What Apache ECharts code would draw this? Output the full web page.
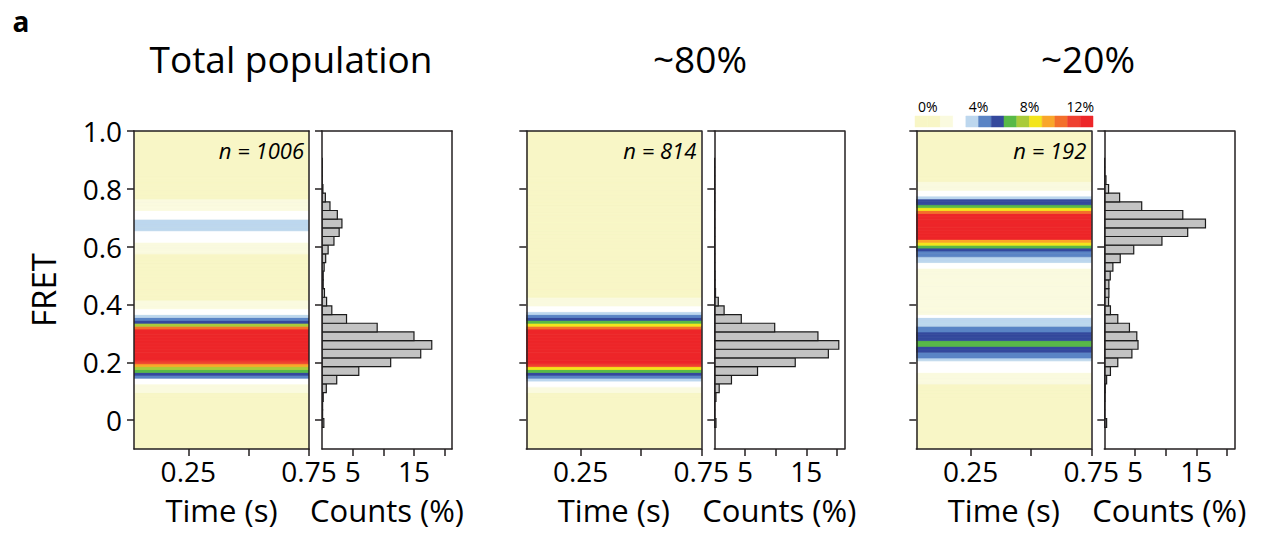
<!DOCTYPE html>
<html><head><meta charset="utf-8">
<script src="https://cdn.jsdelivr.net/npm/echarts@6/dist/echarts.min.js"></script>
<style>html,body{margin:0;padding:0;background:#fff}#c{width:1263px;height:535px}</style>
</head><body><div id="c"></div>
<script>
// ---------------- data ----------------
const panelTitles = ['Total population', '~80%', '~20%'];
const panelN = ['n = 1006', 'n = 814', 'n = 192'];
const timeRange = [0.025, 0.75];          // s, recorded time window
const timeTicks = [0.25, 0.5, 0.75];
const timeLabels = [0.25, 0.75];
const fretRange = [-0.1, 1.0];
const fretTicks = [0, 0.2, 0.4, 0.6, 0.8, 1.0];
const countRange = [0, 21.2];
const countTicks = [5, 10, 15, 20];
const countLabels = [5, 15];
const colorbarRange = [-1, 13];
const colorbarTicks = [0, 4, 8, 12];
const colorbarCells = [-0.5, 0.5, 1.5, 2.5, 3.5, 4.5, 5.5, 6.5, 7.5, 8.5, 9.5, 10.5, 11.5, 12.5];
const levelBounds = [1, 2, 3, 4, 5, 6, 7, 8, 9, 10, 11, 12];
const levelColors = ['#f8f6c6', '#fafadf', '#ffffff', '#bdd7ee', '#5a84c5', '#34499d', '#58b947', '#a9cb3a',
                     '#f3e51c', '#f9a62a', '#f36f2b', '#ef4130', '#ed2629'];

// contour profiles (% per cell) vs FRET, cell height 0.01
const heatCellH = 0.01;
const heatFret = [0.08,0.09,0.10,0.11,0.12,0.13,0.14,0.15,0.16,0.17,0.18,0.19,0.20,0.21,0.22,0.23,0.24,0.25,0.26,0.27,
  0.28,0.29,0.30,0.31,0.32,0.33,0.34,0.35,0.36,0.37,0.38,0.39,0.40,0.41,0.42,0.43,0.44,0.45,0.46,0.47,
  0.48,0.49,0.50,0.51,0.52,0.53,0.54,0.55,0.56,0.57,0.58,0.59,0.60,0.61,0.62,0.63,0.64,0.65,0.66,0.67,
  0.68,0.69,0.70,0.71,0.72,0.73,0.74,0.75,0.76,0.77,0.78,0.79,0.80,0.81,0.82,0.83,0.84];
const heat1 = [0.7,0.8,1.05,1.3,1.6,2.2,2.6,4.2,5.4,6.2,7.5,9.5,11.8,13.5,15.0,16.1,17.0,17.6,17.9,17.5,
  16.5,15.0,13.5,12.3,10.2,7.4,5.6,4.5,3.4,2.6,2.0,1.6,1.3,1.15,0.95,0.8,0.6,0.5,0.4,0.3,
  0.3,0.3,0.3,0.3,0.4,0.5,0.6,0.7,0.8,0.9,1.2,1.4,1.7,1.9,2.2,2.5,2.8,2.95,3.1,3.3,
  3.3,3.1,2.9,2.5,2.2,1.8,1.5,1.2,1.05,0.8,0.5,0.4,0.3,0.2,0.2,0.1,0.1];
const heat2 = [0.7,0.9,1.1,1.4,2.2,2.7,3.5,4.4,5.5,6.4,8.3,11.5,13.5,15.5,17.5,18.6,19.5,20.0,20.3,19.8,
  18.5,16.9,15.0,13.0,10.5,8.3,6.4,5.3,4.3,3.5,2.8,2.2,1.6,1.2,1.0,0.8,0.6,0.4,0.3,0.2,
  0.2,0.2,0.2,0.2,0.2,0.2,0.2,0.2,0.2,0.2,0.2,0.2,0.2,0.2,0.2,0.2,0.2,0.2,0.2,0.2,
  0.2,0.2,0.2,0.2,0.2,0.2,0.2,0.2,0.1,0.1,0.1,0.1,0.1,0.1,0.1,0.1,0.1];
const heat3 = [0.3,0.4,0.6,0.8,0.9,1.1,1.3,1.5,1.8,2.1,2.3,2.5,2.8,3.6,4.4,4.9,5.3,5.6,6.05,6.05,
  5.6,5.3,5.0,4.7,4.4,3.9,3.6,3.3,2.4,1.9,1.8,1.6,1.5,1.4,1.35,1.3,1.3,1.3,1.35,1.4,
  1.45,1.5,1.6,1.7,1.9,2.2,2.6,3.2,3.6,4.3,4.8,5.6,6.5,8.2,9.5,12.3,14.0,15.5,16.5,16.8,
  16.5,15.5,14.0,12.5,10.5,8.5,6.8,5.8,5.0,3.6,2.8,2.4,1.9,1.6,1.2,0.9,0.7];

// FRET histograms (% per bin), bin width 0.03
const histBinW = 0.03;
const histBins = [-0.01,0.02,0.05,0.08,0.11,0.14,0.17,0.20,0.23,0.26,0.29,0.32,0.35,0.38,0.41,0.44,
  0.47,0.50,0.53,0.56,0.59,0.62,0.65,0.68,0.71,0.74,0.77,0.80,0.83,0.86,0.89];
const hist1 = [0.3,0.1,0.1,0.2,0.7,2.4,6.0,11.2,16.1,17.9,15.0,9.0,4.0,1.6,0.75,0.4,
  0.2,0.2,0.35,0.6,1.0,1.95,2.8,3.25,2.5,1.3,0.55,0.15,0.05,0.05,0.05];
const hist2 = [0.27,0.05,0.05,0.27,0.8,2.8,7.05,13.2,18.6,20.3,16.9,9.85,4.4,1.6,0.65,0.2,
  0.1,0.1,0.05,0.05,0.05,0.05,0.05,0.05,0.05,0.05,0.05,0.05,0.05,0.05,0.05];
const hist3 = [0.38,0.05,0.05,0.1,0.15,0.38,1.0,2.2,4.5,5.5,5.3,4.1,2.2,1.0,0.7,0.75,
  0.75,0.97,1.4,2.6,4.8,9.4,13.6,16.5,12.8,6.1,2.5,0.7,0.27,0.05,0.05];

const heatData = [heat1, heat2, heat3];
const histData = [hist1, hist2, hist3];

// ---------------- layout / style ----------------
const FONT = 'Open Sans';
const INK = '#231f20';
const TXT = '#000';
const lineSt = {color: INK, width: 1.5};
const panelOffsets = [0, 392.3, 782.3];
const plotTop = 131, plotH = 318;
const heatLeft = 134, heatW = 175;
const histLeft = 322, histW = 130;

function levelColor(v) {
  let i = 0;
  while (i < levelBounds.length && v >= levelBounds[i]) i++;
  return levelColors[i];
}
const fretFmt = v => (v === 0 ? '0' : v.toFixed(1));

const grids = [], xAxes = [], yAxes = [], series = [], graphics = [];

function frameAxes(g, xOpt, yOpt) {
  const xi = xAxes.length, yi = yAxes.length;
  xAxes.push(Object.assign({type: 'value', gridIndex: g, position: 'bottom', z: 5,
    axisLine: {show: true, onZero: false, lineStyle: lineSt}, splitLine: {show: false}}, xOpt));
  xAxes.push({type: 'value', gridIndex: g, position: 'top', z: 5, min: xOpt.min, max: xOpt.max,
    axisLine: {show: true, onZero: false, lineStyle: lineSt}, axisTick: {show: false},
    axisLabel: {show: false}, splitLine: {show: false}});
  yAxes.push(Object.assign({type: 'value', gridIndex: g, position: 'left', z: 5,
    axisLine: {show: true, onZero: false, lineStyle: lineSt}, splitLine: {show: false}}, yOpt));
  yAxes.push({type: 'value', gridIndex: g, position: 'right', z: 5, min: yOpt.min, max: yOpt.max,
    axisLine: {show: true, onZero: false, lineStyle: lineSt}, axisTick: {show: false},
    axisLabel: {show: false}, splitLine: {show: false}});
  return [xi, yi];
}

const tickSt = {show: true, inside: false, length: 7, lineStyle: lineSt};
const labelSt = {fontFamily: FONT, fontSize: 28, color: TXT};
const nameSt = {fontFamily: FONT, fontSize: 31, color: TXT};

panelOffsets.forEach((off, p) => {
  // heat map grid
  const gh = grids.length;
  grids.push({left: heatLeft + off, top: plotTop, width: heatW, height: plotH, show: true,
    backgroundColor: levelColors[0], borderWidth: 0});
  const [hx, hy] = frameAxes(gh,
    {min: timeRange[0], max: timeRange[1],
     axisTick: Object.assign({customValues: timeTicks}, tickSt),
     axisLabel: Object.assign({customValues: timeLabels, margin: 8, formatter: v => String(v)}, labelSt),
     name: 'Time (s)', nameLocation: 'middle', nameGap: 45, nameTextStyle: nameSt},
    Object.assign({min: fretRange[0], max: fretRange[1],
     axisTick: Object.assign({customValues: fretTicks}, tickSt),
     axisLabel: Object.assign({show: p === 0, customValues: fretTicks, margin: 12, formatter: fretFmt}, labelSt)},
     p === 0 ? {name: 'FRET', nameLocation: 'middle', nameGap: 74, nameRotate: 90,
               nameTextStyle: {fontFamily: FONT, fontSize: 33, color: TXT}} : {}));
  const rows = heatFret.map((f, i) => [timeRange[0], timeRange[1], f, heatData[p][i]]);
  series.push({type: 'custom', xAxisIndex: hx, yAxisIndex: hy, clip: true, silent: true,
    encode: {x: [0, 1], y: 2}, data: rows,
    renderItem: (params, api) => {
      const f = api.value(2), v = api.value(3);
      const a = api.coord([api.value(0), f + heatCellH / 2]);
      const b = api.coord([api.value(1), f - heatCellH / 2]);
      const c = levelColor(v);
      return {type: 'rect', shape: {x: a[0], y: a[1], width: b[0] - a[0], height: b[1] - a[1]},
        style: {fill: c, stroke: c, lineWidth: 0.8}};
    }});

  // histogram grid
  const gs = grids.length;
  grids.push({left: histLeft + off, top: plotTop, width: histW, height: plotH, show: false});
  const [sx, sy] = frameAxes(gs,
    {min: countRange[0], max: countRange[1],
     axisTick: Object.assign({customValues: countTicks}, tickSt),
     axisLabel: Object.assign({customValues: countLabels, margin: 8, formatter: v => String(v)}, labelSt),
     name: 'Counts (%)', nameLocation: 'middle', nameGap: 45, nameTextStyle: nameSt},
    {min: fretRange[0], max: fretRange[1],
     axisTick: Object.assign({customValues: fretTicks}, tickSt),
     axisLabel: {show: false}});
  const bars = histBins.map((f, i) => [f, histData[p][i]]);
  series.push({type: 'custom', xAxisIndex: sx, yAxisIndex: sy, clip: true, silent: true,
    encode: {x: 1, y: 0}, data: bars,
    renderItem: (params, api) => {
      const f = api.value(0), v = api.value(1);
      const a = api.coord([0, f + histBinW / 2]);
      const b = api.coord([v, f - histBinW / 2]);
      return {type: 'rect', shape: {x: a[0], y: a[1], width: b[0] - a[0], height: b[1] - a[1]},
        style: {fill: '#c3c3c3', stroke: '#1c1c1c', lineWidth: 1.2}};
    }});

  // panel title and n label
  const titleX = [291, 700, 1088][p];
  graphics.push({type: 'text', x: titleX, y: 58, style: {text: panelTitles[p], fontFamily: FONT, fontSize: 37,
    fill: TXT, textAlign: 'center', textVerticalAlign: 'middle'}});
  graphics.push({type: 'text', x: heatLeft + off + heatW - 5, y: 150, style: {text: panelN[p], fontFamily: FONT,
    fontSize: 22, fontStyle: 'italic', fill: TXT, textAlign: 'right', textVerticalAlign: 'middle'}});
});

// colour bar
const gc = grids.length;
grids.push({left: 915, top: 116, width: 178, height: 11, show: false});
const cxi = xAxes.length, cyi = yAxes.length;
xAxes.push({type: 'value', gridIndex: gc, position: 'top', min: colorbarRange[0], max: colorbarRange[1],
  axisLine: {show: false}, axisTick: {show: false}, splitLine: {show: false},
  axisLabel: {customValues: colorbarTicks, margin: 3, formatter: v => v + '%', fontFamily: FONT, fontSize: 14, color: TXT}});
yAxes.push({type: 'value', gridIndex: gc, min: 0, max: 1, show: false});
series.push({type: 'custom', xAxisIndex: cxi, yAxisIndex: cyi, silent: true, encode: {x: 0},
  data: colorbarCells.map(c => [c]),
  renderItem: (params, api) => {
    const c = api.value(0);
    const a = api.coord([c - 0.5, 1]);
    const b = api.coord([c + 0.5, 0]);
    const col = levelColor(c);
    return {type: 'rect', shape: {x: a[0], y: a[1], width: b[0] - a[0], height: b[1] - a[1]},
      style: {fill: col, stroke: col, lineWidth: 0.5}};
  }});

graphics.push({type: 'text', x: 21, y: 21, style: {text: 'a', fontFamily: FONT, fontSize: 28, fontWeight: 'bold',
  fill: '#000', textAlign: 'center', textVerticalAlign: 'middle'}});

const chart = echarts.init(document.getElementById('c'), null, {renderer: 'svg'});
chart.setOption({
  animation: false,
  backgroundColor: '#fff',
  grid: grids, xAxis: xAxes, yAxis: yAxes, series: series,
  graphic: graphics
});
</script></body></html>
